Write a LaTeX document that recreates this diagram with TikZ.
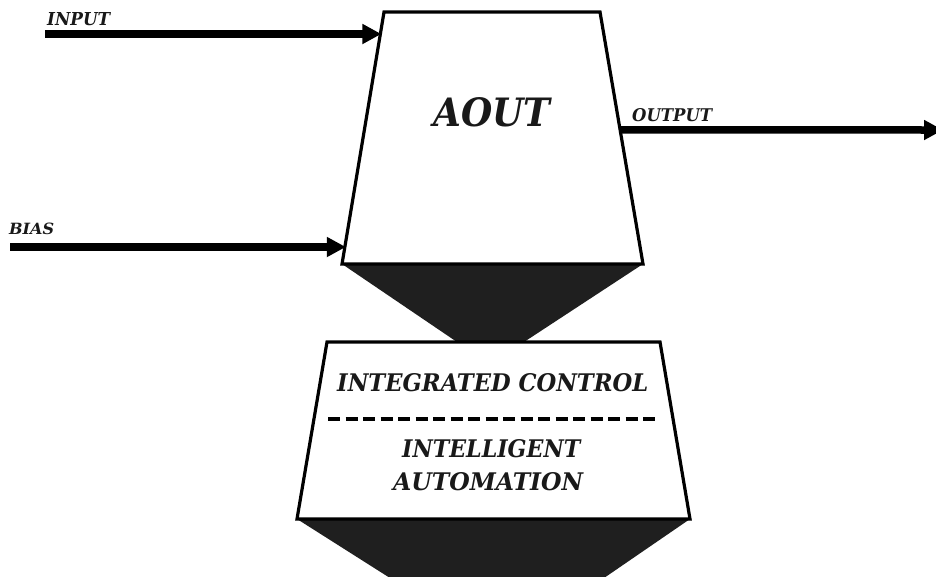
\documentclass[tikz,border=0pt]{standalone}
\usepackage{fontspec}
\usepackage{graphicx}
\newfontfamily\labelfont{DejaVu Serif Condensed}
\usetikzlibrary{arrows.meta,calc}
\tikzset{
  outline/.style={line width=3.2pt, line join=miter, fill=white},
  funnel/.style={fill=black!88, draw=none},
  flow/.style={line width=7.5pt, -{Triangle[length=19pt,width=19pt]}, shorten >=-1pt},
  lbl/.style={inner sep=0pt, anchor=south west, font=\labelfont\bfseries\itshape, text=black!90},
  divider/.style={line width=3.5pt, dash pattern=on 12pt off 5.5pt}
}
% \fitlabel{width}{cap height}{text}
\newcommand{\fitlabel}[3]{\resizebox{#1}{#2}{#3}}
\begin{document}
\begin{tikzpicture}[x=1pt,y=-1pt]
\useasboundingbox (0,0) rectangle (936,576);

% upper block (AOUT)
\coordinate (tl) at (384,12);
\coordinate (tr) at (600,12);
\coordinate (bl) at (342,264);
\coordinate (br) at (643,264);
% lower block
\coordinate (ltl) at (327,342);
\coordinate (ltr) at (660,342);
\coordinate (lbl) at (297,519);
\coordinate (lbr) at (690,519);

% dark funnels
\fill[funnel] (bl) -- (br) -- (524,342) -- (457,342) -- cycle;
\fill[funnel] (lbl) -- (lbr) -- (604,578) -- (390,578) -- cycle;

\draw[outline] (tl) -- (tr) -- (br) -- (bl) -- cycle;
\draw[outline] (ltl) -- (ltr) -- (lbr) -- (lbl) -- cycle;

% block texts
\node[lbl] (aout) at (433,127.5) {\fitlabel{117pt}{29pt}{AOUT}};
\node[lbl] (ic) at (337,392) {\fitlabel{311pt}{18pt}{INTEGRATED CONTROL}};
\node[lbl] (il) at (402,458.5) {\fitlabel{178pt}{18pt}{INTELLIGENT}};
\node[lbl] (am) at (393,491.5) {\fitlabel{190pt}{18pt}{AUTOMATION}};
\coordinate (dl) at (328,419);
\coordinate (dr) at (656,419);
\draw[divider] (dl) -- (dr);

% signal arrows
\coordinate (inS) at (45,34);
\coordinate (inE) at ($(tl)!0.087!(bl)$);
\coordinate (bsS) at (10,247);
\coordinate (bsE) at ($(tl)!0.933!(bl)$);
\coordinate (otS) at ($(tr)!0.468!(br)$);
\coordinate (otE) at (942,130);

\node[lbl] (inputlbl) at (47,25.5) {\fitlabel{63pt}{13pt}{INPUT}};
\node[lbl] (biaslbl) at (9,234.5) {\fitlabel{45pt}{11.5pt}{BIAS}};
\node[lbl] (outputlbl) at (632,121.5) {\fitlabel{80pt}{13pt}{OUTPUT}};

\draw[flow] (inS) -- (inS -| inE);
\draw[flow] (bsS) -- (bsS -| bsE);
\draw[flow] (otS) -- (otE);
\end{tikzpicture}
\end{document}
